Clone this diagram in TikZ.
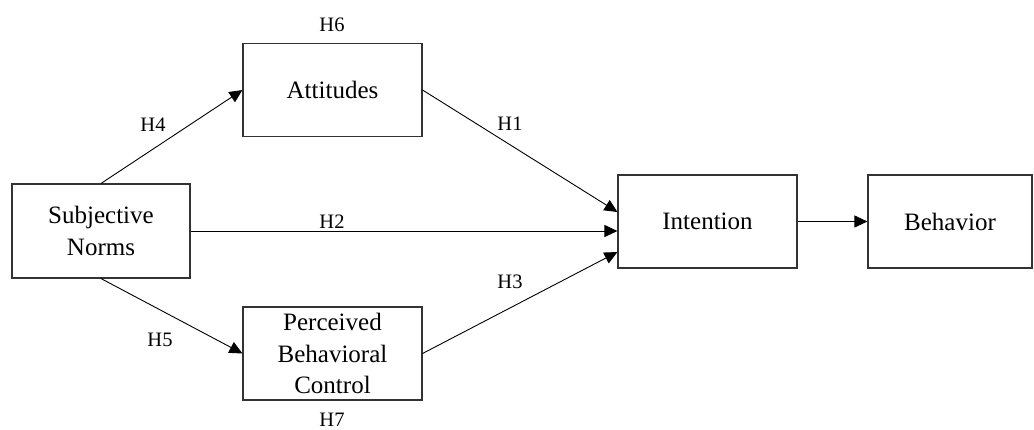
\documentclass[tikz,border=0pt]{standalone}
\usepackage{fontspec}
\setmainfont{Liberation Serif}
\usetikzlibrary{arrows.meta,calc}
\tikzset{
  box/.style={draw=black!80, line width=1.1pt, minimum width=179pt, minimum height=93pt, inner sep=0pt, align=center, font=\fontsize{25}{31.5}\selectfont},
  hlab/.style={inner sep=0pt, font=\fontsize{20.5}{24}\selectfont},
  conn/.style={line width=0.9pt, -{Triangle[length=13pt,width=12pt]}, shorten >=0pt}
}
\begin{document}
\begin{tikzpicture}[x=1pt,y=-1pt]
\useasboundingbox (0,0) rectangle (1034,429);
\node[box] (att) at (332.5,90) {Attitudes};
\node[box, minimum width=178pt, minimum height=94pt] (sn) at (101,231) {Subjective\\Norms};
\node[box] (pbc) at (332.5,353.5) {Perceived\\Behavioral\\Control};
\node[box] (int) at (707.5,221.5) {Intention};
\node[box, minimum width=164pt] (beh) at (950,221.5) {Behavior};

\draw[conn] (sn.north) -- (att.west);
\draw[conn] (sn.south) -- (pbc.west);
\draw[conn] (att.east) -- ($(int.west)+(0,-9.5)$);
\draw[conn] (sn.east) -- ($(int.west)+(0,9.5)$);
\draw[conn] (pbc.east) -- ($(int.west)+(0,30.5)$);
\draw[conn] (int.east) -- (beh.west);

\node[hlab] (h6) at (332,25) {H6};
\node[hlab] (h4) at (153,125) {H4};
\node[hlab] (h1) at (510,124) {H1};
\node[hlab] (h2) at (332,222) {H2};
\node[hlab] (h3) at (510,282) {H3};
\node[hlab] (h5) at (160,340) {H5};
\node[hlab] (h7) at (332,419.5) {H7};
\end{tikzpicture}
\end{document}
